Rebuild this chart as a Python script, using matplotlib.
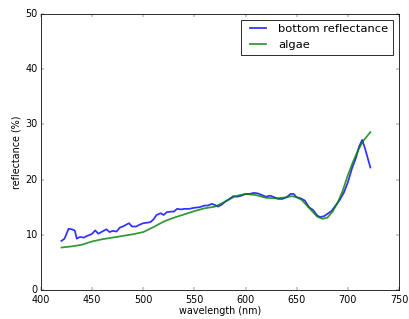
import matplotlib
matplotlib.use('Agg')
import matplotlib.pyplot as plt
import numpy as np

# bottom reflectance (blue)
wl_bottom = [420, 423, 427, 430, 433, 435, 438, 442, 445, 448, 450, 453, 456, 460,
             464, 467, 470, 474, 477, 480, 483, 486, 489, 493, 496, 500, 504, 507,
             510, 513, 517, 520, 523, 527, 530, 533, 537, 540, 545, 550, 555, 560,
             563, 567, 570, 573, 577, 580, 585, 588, 592, 596, 600, 604, 608, 612,
             616, 620, 624, 628, 632, 636, 640, 644, 647, 650, 654, 658, 662, 666,
             670, 673, 677, 680, 684, 688, 692, 696, 700, 704, 708, 711, 714, 717, 722]
refl_bottom = [8.9, 9.3, 11.1, 11.0, 10.8, 9.3, 9.6, 9.5, 9.8, 10.0, 10.2, 10.8, 10.2, 10.6,
               11.0, 10.5, 10.7, 10.6, 11.3, 11.5, 11.8, 12.1, 11.5, 11.5, 11.8, 12.1, 12.2, 12.3,
               12.8, 13.6, 13.9, 13.6, 14.1, 14.2, 14.2, 14.7, 14.6, 14.7, 14.7, 14.9, 15.0, 15.3,
               15.3, 15.6, 15.4, 15.1, 15.5, 16.0, 16.6, 17.0, 16.9, 17.1, 17.4, 17.4, 17.6, 17.5,
               17.2, 16.9, 17.1, 16.8, 16.5, 16.5, 16.8, 17.4, 17.4, 16.8, 16.6, 16.2, 15.0, 14.5,
               13.5, 13.2, 13.4, 13.8, 14.3, 15.3, 16.3, 17.6, 19.5, 22.0, 24.0, 26.0, 27.2, 25.5, 22.2]

# algae (green)
wl_algae = [420, 430, 440, 450, 460, 470, 480, 490, 500, 510, 520, 530, 540, 550, 560,
            570, 580, 590, 600, 610, 620, 630, 640, 645, 650, 655, 660, 665, 670, 675,
            680, 685, 690, 695, 700, 705, 710, 715, 722]
refl_algae = [7.7, 7.9, 8.2, 8.8, 9.2, 9.5, 9.8, 10.1, 10.5, 11.4, 12.4, 13.1, 13.7, 14.3, 14.8,
              15.1, 16.0, 17.0, 17.4, 17.2, 16.7, 16.6, 16.8, 17.0, 16.8, 16.3, 15.3, 14.3, 13.3, 12.9,
              13.1, 14.2, 15.8, 18.0, 20.8, 23.2, 25.3, 27.0, 28.6]

plt.style.use('classic')
dpi = 57.7
fig = plt.figure(figsize=(409 / dpi, 319 / dpi), dpi=dpi)
fig.patch.set_facecolor('white')
ax = fig.add_axes([41 / 409, 29 / 319, 358 / 409, 276 / 319])

ax.plot(wl_bottom, refl_bottom, color='b', linewidth=2.2, alpha=0.8, label='bottom reflectance')
ax.plot(wl_algae, refl_algae, color='g', linewidth=2.2, alpha=0.8, label='algae')

ax.set_xlim(400, 750)
ax.set_ylim(0, 50)
ax.set_xlabel('wavelength (nm)', fontsize=12, labelpad=2)
ax.set_ylabel('reflectance (%)', fontsize=12)
ax.tick_params(labelsize=12)
ax.tick_params(axis='x', pad=6)
ax.legend(loc='upper right', fontsize=14.4)

fig.savefig('out.png', dpi=dpi, facecolor='white')
